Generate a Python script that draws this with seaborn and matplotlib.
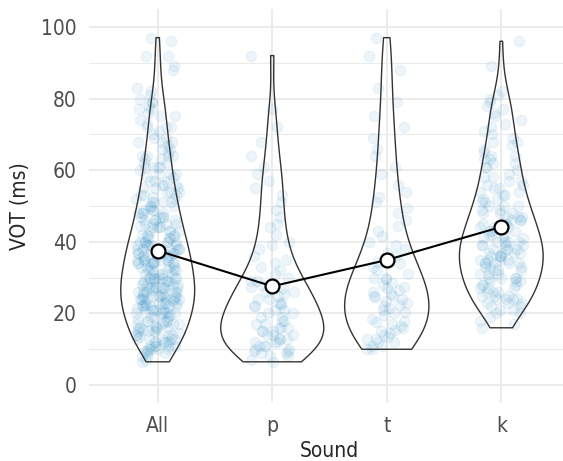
import numpy as np
import pandas as pd
import matplotlib
matplotlib.use("Agg")
import matplotlib.pyplot as plt
import seaborn as sns
from matplotlib.ticker import MultipleLocator

# VOT values (ms), per sound
p_vot = [6.5, 7, 8, 8, 9, 9, 9.5, 9.5,
         10, 10, 11, 11, 11, 12, 12, 12, 13, 13, 13, 14, 14, 14,
         15, 15, 15, 16, 16, 16, 17, 17, 18, 18, 19, 19,
         20, 20, 21, 21, 22, 22, 22.5, 23, 23, 24, 24,
         25, 25.5, 26, 26, 27, 27.5, 28, 29, 29, 30, 31, 32, 33, 34,
         35, 36, 38, 39, 40, 42, 44, 45, 47, 49,
         51, 53, 55, 57, 59, 61, 64, 68, 72, 77, 92]
t_vot = [10, 10, 11, 11, 12, 12, 13, 13, 13.5, 14, 14.5,
         15, 15.5, 16, 16.5, 17, 17.5, 18, 18.5, 19.5,
         20, 20.5, 21, 21.5, 22, 22.5, 23, 23.5, 24, 24.5,
         25, 25, 25.5, 26, 26.5, 27, 27.5, 28, 28.5, 29.5,
         30, 30, 31, 32, 33, 34, 34.5, 35, 36, 37, 38, 39, 40, 41.5, 43, 44.5,
         46, 48, 49.5, 51, 52.5, 54, 56, 59, 61, 64, 66, 69, 72, 75, 79, 83, 88, 92, 97]
k_vot = [16, 17, 18, 19, 20, 20, 21, 21, 22, 22, 23, 23, 23, 24, 24, 24, 24,
         25, 25, 25, 26, 26, 26, 27, 27, 27, 28, 28, 28, 29, 29, 29, 30, 30, 30, 30,
         31, 31, 31, 32, 32, 32, 33, 33, 33, 34, 34, 34, 34, 34,
         35, 35, 35, 35, 36, 36, 36, 36, 37, 37, 37, 37, 38, 38, 38, 38, 39, 39, 39, 39,
         40, 40, 40, 40, 41, 41, 41, 42, 42, 42, 43, 43, 43, 44, 44, 44,
         45, 45, 45, 46, 46, 46, 47, 47, 47, 48, 48, 48, 49, 49, 50, 50, 50, 51, 51,
         52, 52, 53, 53, 54, 54, 55, 55, 56, 56, 57, 57, 58, 58, 59,
         60, 61, 61, 62, 62, 63, 63, 64, 64, 65, 66, 67, 68, 68, 69, 70, 71, 72, 73, 74,
         75, 76, 77, 78, 79, 80, 81, 82, 89, 96]
sounds = ["All", "p", "t", "k"]

all_vot = p_vot + t_vot + k_vot
df = pd.DataFrame({
    "sound": ["All"] * len(all_vot) + ["p"] * len(p_vot) + ["t"] * len(t_vot) + ["k"] * len(k_vot),
    "vot": all_vot + p_vot + t_vot + k_vot,
})


def nrd0(kde):
    # R's default bandwidth rule, as a factor of the sample sd
    x = kde.dataset[0]
    sd = x.std(ddof=1)
    q75, q25 = np.percentile(x, [75, 25])
    h = 0.9 * min(sd, (q75 - q25) / 1.34) * x.size ** -0.2
    return h / sd


sns.set_style("white")
plt.rcParams["font.family"] = ["DejaVu Sans"]
plt.rcParams["font.stretch"] = "condensed"

fig = plt.figure(figsize=(5.63, 4.61), dpi=100)
ax = fig.add_axes([89 / 563, 58 / 461, 481 / 563, 394 / 461])

sns.violinplot(data=df, x="sound", y="vot", order=sounds, cut=0, inner=None,
               density_norm="area", width=0.9, bw_method=nrd0,
               fill=False, color="#333333", linewidth=1, ax=ax, zorder=3)
sns.stripplot(data=df, x="sound", y="vot", order=sounds, jitter=0.19,
              color="#1f86c2", alpha=0.08, size=7.5, linewidth=0.8,
              edgecolor="#1f86c2", ax=ax, zorder=2)
sns.pointplot(data=df, x="sound", y="vot", order=sounds, errorbar=None,
              color="black", markers="o", markersize=10, linewidth=1.5,
              markerfacecolor="white", markeredgecolor="black",
              markeredgewidth=1.6, ax=ax)
for ln in ax.lines:
    ln.set_zorder(5)
    ln.set_markerfacecolor("white")

ax.set_xlim(-0.6, 3.6)
ax.set_ylim(-5, 105)
ax.yaxis.set_major_locator(MultipleLocator(20))
ax.yaxis.set_minor_locator(MultipleLocator(10))
ax.grid(True, which="major", color="#ebebeb", linewidth=1.4, zorder=0)
ax.grid(True, which="minor", axis="y", color="#ebebeb", linewidth=0.8, zorder=0)
ax.set_axisbelow(True)
for s in ax.spines.values():
    s.set_visible(False)
ax.tick_params(which="both", length=0, labelsize=15, labelcolor="#4d4d4d", pad=9)
ax.set_xlabel("Sound", fontsize=15, labelpad=4)
ax.set_ylabel("VOT (ms)", fontsize=15, labelpad=8)

fig.savefig("out.png", dpi=100)
